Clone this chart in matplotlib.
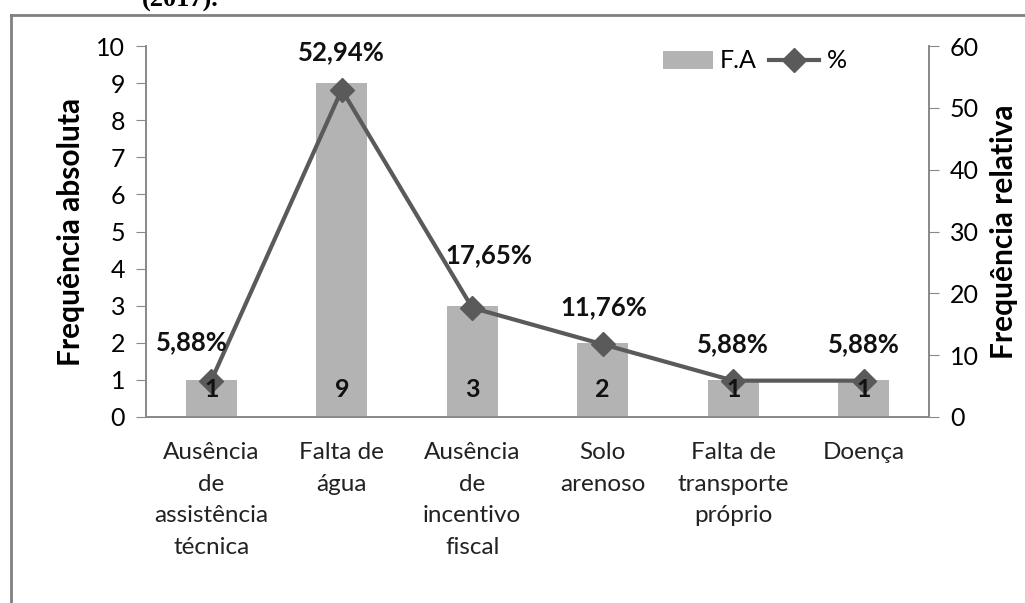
import matplotlib.pyplot as plt
import numpy as np
from matplotlib.lines import Line2D

categories = ["Ausência\nde\nassistência\ntécnica", "Falta de\nágua", "Ausência\nde\nincentivo\nfiscal",
              "Solo\narenoso", "Falta de\ntransporte\npróprio", "Doença"]
freq_abs = [1, 9, 3, 2, 1, 1]
freq_rel = [5.88, 52.94, 17.65, 11.76, 5.88, 5.88]
rel_labels = ["5,88%", "52,94%", "17,65%", "11,76%", "5,88%", "5,88%"]

FONT = "Lato"
plt.rcParams['font.family'] = [FONT, 'DejaVu Sans']
BAR = "#b3b3b3"
LINE = "#5a5a5a"
AX = "#888888"

fig = plt.figure(figsize=(10.25, 6.03), dpi=100)
ax = fig.add_axes([146/1025, 1-417/603, (929-146)/1025, (417-46)/603])
ax2 = ax.twinx()

x = np.arange(len(categories))
bars = ax.bar(x, freq_abs, width=0.39, color=BAR, zorder=1, label="F.A")
ax.set_ylim(0, 10)
ax.set_xlim(-0.5, len(categories) - 0.5)
ax.set_yticks(range(0, 11))
ax.set_xticks(x)
ax.set_xticklabels(categories, fontsize=17.5, color="#222222", linespacing=1.62)
ax.tick_params(axis="x", length=0, pad=18)
ax.tick_params(axis="y", direction="out", length=7, color=AX, labelsize=18, pad=8)

ln, = ax2.plot(x, freq_rel, color=LINE, lw=3, marker="D", ms=12, zorder=3, label="%")
ax2.set_ylim(0, 60)
ax2.set_yticks(range(0, 61, 10))
ax2.tick_params(axis="y", direction="out", length=7, color=AX, labelsize=18, pad=8)

for a in (ax, ax2):
    a.spines["top"].set_visible(False)
    for s in ("left", "right", "bottom"):
        a.spines[s].set_color(AX)
        a.spines[s].set_linewidth(1.2)

ax.set_ylabel("Frequência absoluta", fontsize=21.5, fontweight="bold", labelpad=8)
ax2.set_ylabel("Frequência relativa", fontsize=21.5, fontweight="bold", labelpad=8)

# bar values drawn on top of the line
for i, v in enumerate(freq_abs):
    ax2.annotate(str(v), (x[i], 0), xytext=(0, 19.5), textcoords="offset points",
                 ha="center", va="center", fontsize=18, fontweight="bold", color="#111111", zorder=5)

offsets = [(-14, 28), (0, 27), (12, 38), (1, 27), (0, 26), (0, 26)]
for i, v in enumerate(freq_rel):
    ax2.annotate(rel_labels[i], (x[i], v), xytext=offsets[i], textcoords="offset points",
                 ha="center", va="center", fontsize=18.5, fontweight="bold", color="#111111")

leg = fig.legend(handles=[bars, ln], labels=["F.A", "%"], ncol=2, frameon=False,
                 loc="center left", bbox_to_anchor=(640/1025, 1-61/603), fontsize=18,
                 handlelength=2.0, handletextpad=0.3, columnspacing=0.5)

# outer box (cut off on the right/bottom)
fig.add_artist(Line2D([11/1025, 11/1025], [0, 1-15/603], color="#808080", lw=2))
fig.add_artist(Line2D([11/1025, 1], [1-15/603, 1-15/603], color="#808080", lw=2))

fig.text(142/1025, 1-7/603, "(2017).", fontsize=19, fontweight="bold",
         family="Liberation Serif", ha="left", va="baseline")

fig.savefig("out.png", dpi=100)
